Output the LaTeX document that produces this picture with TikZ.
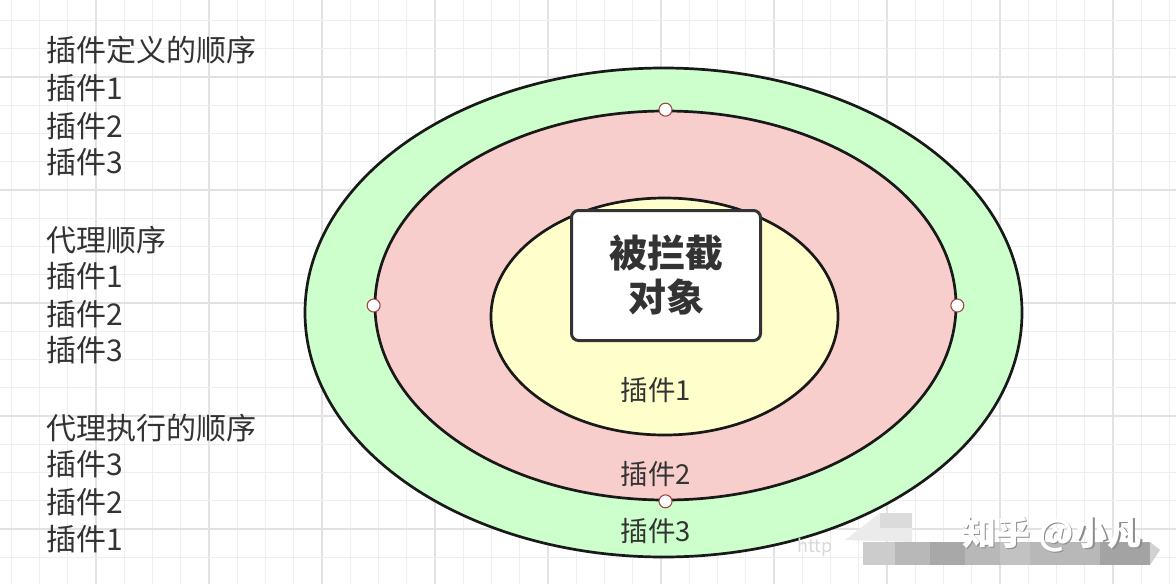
\documentclass[tikz,border=0pt]{standalone}
\usepackage{fontspec}
\setmainfont{Noto Sans CJK SC}
\usetikzlibrary{shapes.geometric}
\definecolor{txt}{HTML}{333333}
\definecolor{gridminor}{HTML}{EEEEEE}
\definecolor{gridmajor}{HTML}{E2E2E2}
\definecolor{greenfill}{HTML}{CCFFCC}
\definecolor{pinkfill}{HTML}{F8CECC}
\definecolor{yellowfill}{HTML}{FFFFCC}
\definecolor{dotborder}{HTML}{9E4A4A}
\tikzset{
  ring/.style={ellipse, draw=black!90, line width=2.7pt, inner sep=0pt},
  lefttext/.style={anchor=west, inner sep=0pt, text=txt, font=\fontsize{30}{34}\selectfont},
  ringlabel/.style={inner sep=0pt, text=txt, font=\fontsize{27.5}{32}\selectfont},
  dot/.style={circle, draw=dotborder, fill=white, line width=1.1pt, minimum size=13pt, inner sep=0pt},
  core/.style={draw=txt, line width=3pt, fill=white, rounded corners=7pt, minimum width=189pt, minimum height=130pt, align=center, text=txt, font=\fontsize{38}{44}\selectfont\bfseries}
}
\begin{document}
\begin{tikzpicture}[x=1pt,y=-1pt]
\useasboundingbox (0,0) rectangle (1176,584);
\fill[white] (0,0) rectangle (1176,584);
% grid
\foreach \i in {0,...,41} {
  \pgfmathtruncatemacro{\m}{mod(\i+1,4)}
  \ifnum\m=0 \def\gc{gridmajor}\else\def\gc{gridminor}\fi
  \draw[\gc, line width=1.4pt] ({11.25+28.25*\i},0) -- ({11.25+28.25*\i},584);
}
\foreach \j in {0,...,20} {
  \pgfmathtruncatemacro{\m}{mod(\j+2,4)}
  \ifnum\m=0 \def\gc{gridmajor}\else\def\gc{gridminor}\fi
  \draw[\gc, line width=1.4pt] (0,{20.5+28.25*\j}) -- (1176,{20.5+28.25*\j});
}
% left texts
\foreach \y/\t [count=\n] in {50/插件定义的顺序, 88/插件1, 126/插件2, 162/插件3,
  240/代理顺序, 276/插件1, 314/插件2, 350/插件3,
  428/代理执行的顺序, 464/插件3, 502/插件2, 539/插件1}
  \node[lefttext] (L\n) at (46,\y) {\t};
% rings
\node[ring, fill=greenfill, minimum width=717pt, minimum height=489pt] (outer) at (663.5,312.5) {};
\node[ring, fill=pinkfill, minimum width=581pt, minimum height=389pt] (middle) at (665.5,305.5) {};
\node[ring, fill=yellowfill, minimum width=347pt, minimum height=237pt] (inner) at (664.5,316.5) {};
% core
\node[core] (obj) at (666,275.5) {被拦截\\对象};
% ring labels
\node[ringlabel] (p1) at (656,390) {插件1};
\node[ringlabel] (p2) at (656,474) {插件2};
\node[ringlabel] (p3) at (656,531) {插件3};
% dots on middle ring
\node[dot] (d1) at (middle.west) {};
\node[dot] (d2) at (middle.east) {};
\node[dot] (d3) at (middle.north) {};
\node[dot] (d4) at (middle.south) {};
% watermark
\fill[black!8] (845,540) -- (880,513) -- (912,513) -- (912,542) -- cycle;
\fill[black!14] (880,513) rectangle (912,528);
\fill[black!28] (863,542) rectangle (1150,565);
\fill[black!20] (863,542) rectangle (895,565);
\fill[black!34] (930,542) rectangle (965,565);
\fill[black!24] (1000,542) rectangle (1030,565);
\fill[black!36] (1100,542) rectangle (1150,565);
\fill[black!18] (1150,542) -- (1160,550) -- (1150,565) -- cycle;
\node[inner sep=0pt, text=black!15, font=\fontsize{18}{20}\selectfont] (http) at (815,547) {http};
\node[inner sep=0pt, text=black!45, font=\fontsize{34}{38}\selectfont\bfseries] (wm0) at (1053.5,535.5) {知乎 @小凡};
\node[inner sep=0pt, text=white, font=\fontsize{34}{38}\selectfont\bfseries] (wm) at (1052,534) {知乎 @小凡};
\end{tikzpicture}
\end{document}
